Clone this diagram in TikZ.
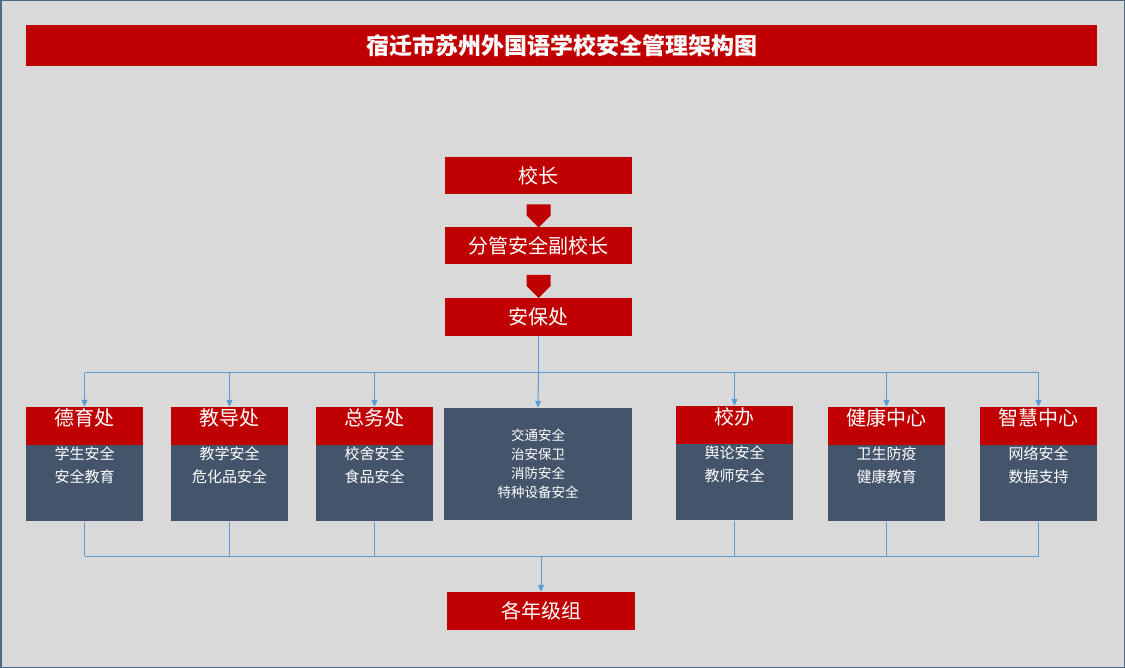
\documentclass[tikz,border=0pt]{standalone}
\usepackage{fontspec}
\newfontfamily\cjk{Noto Sans CJK SC}
\usetikzlibrary{positioning,arrows.meta,shapes.arrows}
\definecolor{redbar}{HTML}{C00000}
\definecolor{slate}{HTML}{44546A}
\definecolor{bggray}{HTML}{D9D9D9}
\definecolor{linkblue}{HTML}{5B9BD5}
\tikzset{
  redbox/.style={fill=redbar,text=white,inner sep=0pt,font=\cjk\fontsize{20}{24}\selectfont},
  bodybox/.style={fill=slate,text=white,inner sep=0pt,align=center,font=\cjk\fontsize{15}{23}\selectfont},
  downarrow/.style={single arrow,fill=redbar,rotate=-90,minimum height=23pt,minimum width=24pt,
    single arrow head extend=0pt,inner sep=0pt,single arrow tip angle=90},
  link/.style={draw=linkblue,line width=1pt},
  linkarrow/.style={link,-{Triangle[length=7pt,width=6pt]}}
}
\begin{document}
\begin{tikzpicture}[x=1pt,y=-1pt]
  \useasboundingbox (0,0) rectangle (1125,668);
  \draw[fill=bggray,draw=slate!70!linkblue,line width=1.5pt] (0.75,0.75) rectangle (1124.25,667.25);

  % title
  \node [fill=redbar,text=white,minimum width=1071pt,minimum height=41pt,inner sep=0pt,
    font=\cjk\bfseries\fontsize{23}{26}\selectfont] (title) at (561.5,45.5) {宿迁市苏州外国语学校安全管理架构图};

  % top chain
  \node [redbox,minimum width=187pt,minimum height=37pt] (head) at (538.5,175.5) {校长};
  \node [redbox,minimum width=187pt,minimum height=37pt] (vice) at (538.5,245.5) {分管安全副校长};
  \node [redbox,minimum width=187pt,minimum height=38pt] (office) at (538.5,317) {安保处};
  \node [downarrow] (ar1) at (538.5,210) {};
  \node [downarrow] (ar2) at (538.5,280.5) {};

  % departments
  \foreach \name/\cx/\ht/\title/\body in {
      dy/84.5/426/德育处/{学生安全\\安全教育},
      jd/229.5/426/教导处/{教学安全\\危化品安全},
      zw/374.5/426/总务处/{校舍安全\\食品安全},
      xb/734.5/425/校办/{舆论安全\\教师安全},
      jk/886.5/426/健康中心/{卫生防疫\\健康教育},
      zh/1038.5/426/智慧中心/{网络安全\\数据支持}} {
    \node [redbox,minimum width=117pt,minimum height=38pt] (\name) at (\cx,\ht) {\title};
    \node [bodybox,minimum width=117pt,minimum height=76pt,below=0pt of \name] (\name b) {\body};
  }
  \node [bodybox,minimum width=188pt,minimum height=112pt,font=\cjk\fontsize{13.5}{19}\selectfont] (mid) at (538,464)
    {交通安全\\治安保卫\\消防安全\\特种设备安全};

  % bottom
  \node [redbox,minimum width=188pt,minimum height=38pt] (grade) at (541,611) {各年级组};

  % links from security office
  \coordinate (hub) at (538.5,373);
  \draw [link] (office.south) -- (hub);
  \draw [link] (dy.north |- hub) -- (zh.north |- hub);
  \foreach \n in {dy,jd,zw,xb,jk,zh}
    \draw [linkarrow] (\n.north |- hub) -- (\n.north);
  \draw [linkarrow] (hub) -- (mid.north);

  % links to grade groups
  \coordinate (sink) at (541,556);
  \foreach \n in {dyb,jdb,zwb,xbb,jkb,zhb}
    \draw [link] (\n.south) -- (\n.south |- sink);
  \draw [link] (dyb.south |- sink) -- (zhb.south |- sink);
  \draw [linkarrow] (sink) -- (grade.north);
\end{tikzpicture}
\end{document}
